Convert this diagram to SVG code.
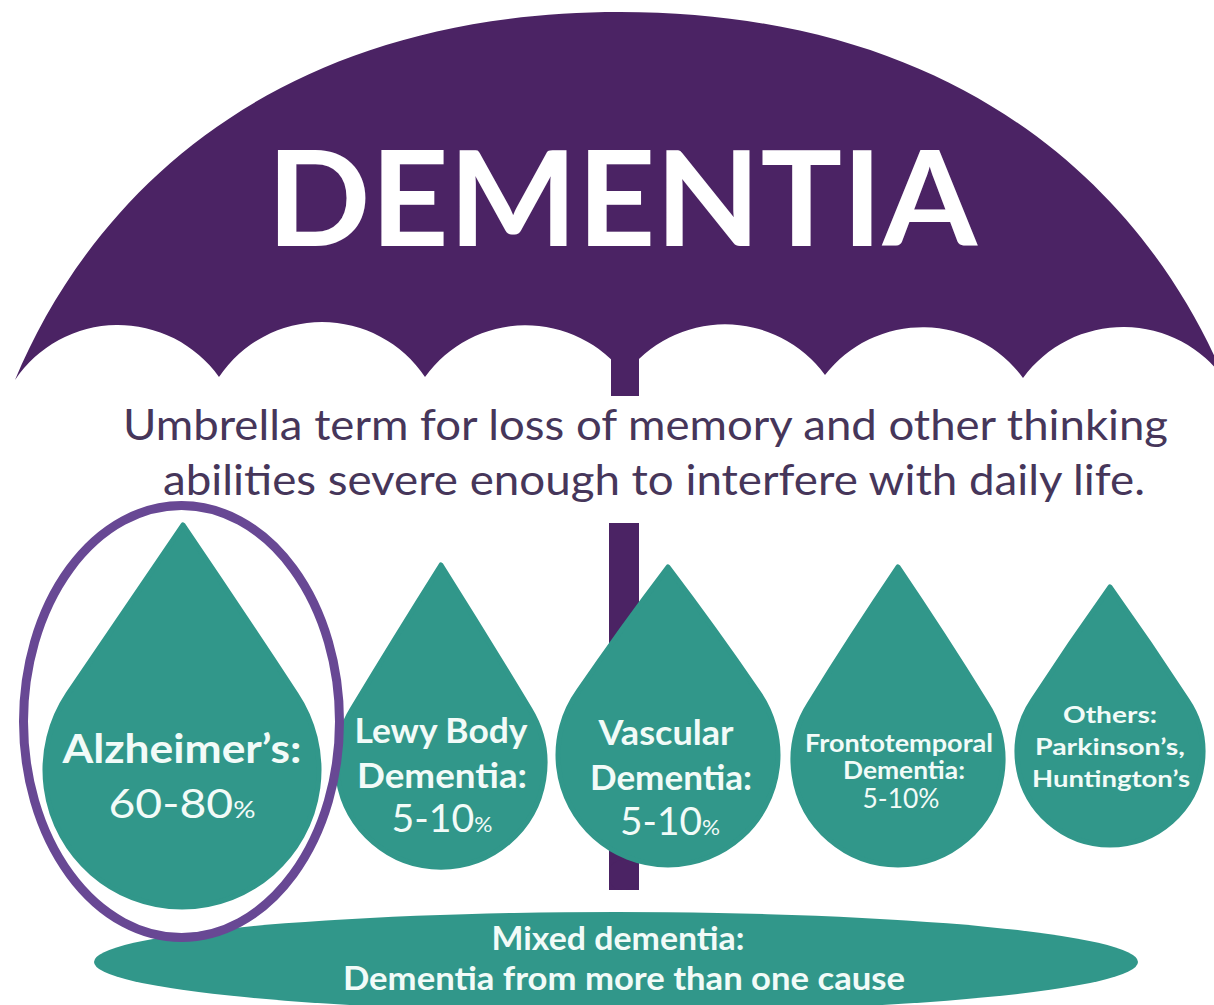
<svg xmlns="http://www.w3.org/2000/svg" width="1214" height="1005" viewBox="0 0 1214 1005">
<style>
.canopy{fill:#4b2364}
.shaft{fill:#4b2364}
.drop{fill:#31978a;stroke:#31978a;stroke-width:5;stroke-linejoin:round}
.ring{fill:none;stroke:#684894;stroke-width:9}
.title{font-family:Lato,"Liberation Sans",sans-serif;font-weight:700;fill:#ffffff}
.sub{font-family:Lato,"Liberation Sans",sans-serif;font-weight:400;fill:#46365a;font-size:42px}
.lb{font-family:Lato,"Liberation Sans",sans-serif;font-weight:700;fill:#f2fbf8;text-anchor:middle}
.lr{font-family:Lato,"Liberation Sans",sans-serif;font-weight:400;fill:#f2fbf8;text-anchor:middle}
</style>
<rect width="1214" height="1005" fill="#ffffff"/>
<g id="umbrella">
<rect class="shaft" x="609" y="523" width="30" height="367" rx="0"/>
<rect class="shaft" x="609" y="860" width="30" height="30" rx="13"/>
<path class="canopy" d="M15,380 C90,200 270,12 620,12 C970,12 1150,200 1225,380 A124 124 0 0 0 1023,378 A124 124 0 0 0 825,375 A124 124 0 0 0 625,375 A124 124 0 0 0 425,377 A124 124 0 0 0 219,377 A124 124 0 0 0 15,380 Z"/>
<rect class="shaft" x="611" y="340" width="28" height="56"/>
<text class="title" x="622" y="246" font-size="132" text-anchor="middle" textLength="710" lengthAdjust="spacingAndGlyphs">DEMENTIA</text>
</g>
<g id="definition">
<text class="sub" x="123" y="440" textLength="1045" lengthAdjust="spacingAndGlyphs">Umbrella term for loss of memory and other thinking</text>
<text class="sub" x="163" y="495" textLength="982" lengthAdjust="spacingAndGlyphs">abilities severe enough to interfere with daily life.</text>
</g>
<g id="connectors"></g>
<g id="alzheimers">
<path class="drop" d="M183,525 Q242,612 296,694 A137 137 0 1 1 68,694 Q124,612 183,525 Z"/>
<text class="lb" x="182" y="763" font-size="40" textLength="239" lengthAdjust="spacingAndGlyphs">Alzheimer’s:</text>
<text class="lr" x="182" y="818" font-size="40" textLength="147" lengthAdjust="spacingAndGlyphs">60-80<tspan font-size="24">%</tspan></text>
</g>
<g id="lewy-body">
<path class="drop" d="M441,565 Q487,638 529.8,709 A104 104 0 1 1 352.2,709 Q395,638 441,565 Z"/>
<text class="lb" x="441" y="743" font-size="34" textLength="173" lengthAdjust="spacingAndGlyphs">Lewy Body</text>
<text class="lb" x="442" y="788" font-size="34" textLength="170" lengthAdjust="spacingAndGlyphs">Dementia:</text>
<text class="lr" x="442" y="832" font-size="38" textLength="101" lengthAdjust="spacingAndGlyphs">5-10<tspan font-size="22">%</tspan></text>
</g>
<g id="vascular">
<path class="drop" d="M668,567 Q715,629 757.7,691.3 A110 110 0 1 1 578.3,691.3 Q621,629 668,567 Z"/>
<text class="lb" x="666" y="745" font-size="34" textLength="135" lengthAdjust="spacingAndGlyphs">Vascular</text>
<text class="lb" x="671" y="790" font-size="34" textLength="162" lengthAdjust="spacingAndGlyphs">Dementia:</text>
<text class="lr" x="670" y="835" font-size="38" textLength="100" lengthAdjust="spacingAndGlyphs">5-10<tspan font-size="22">%</tspan></text>
</g>
<g id="frontotemporal">
<path class="drop" d="M898,567 Q944,635 986.5,703.5 A105 105 0 1 1 809.5,703.5 Q852,635 898,567 Z"/>
<text class="lb" x="899" y="752" font-size="25" textLength="188" lengthAdjust="spacingAndGlyphs">Frontotemporal</text>
<text class="lb" x="904" y="779" font-size="25" textLength="122" lengthAdjust="spacingAndGlyphs">Dementia:</text>
<text class="lr" x="901" y="808" font-size="26" textLength="77" lengthAdjust="spacingAndGlyphs">5-10%</text>
</g>
<g id="others">
<path class="drop" d="M1110,587 Q1150,643 1187.2,700.2 A93 93 0 1 1 1032.8,700.2 Q1070,643 1110,587 Z"/>
<text class="lb" x="1110" y="723" font-size="23" textLength="94" lengthAdjust="spacingAndGlyphs">Others:</text>
<text class="lb" x="1110" y="755" font-size="23" textLength="150" lengthAdjust="spacingAndGlyphs">Parkinson’s,</text>
<text class="lb" x="1111" y="787" font-size="23" textLength="158" lengthAdjust="spacingAndGlyphs">Huntington’s</text>
</g>
<g id="mixed">
<ellipse cx="616" cy="962" rx="522" ry="50" fill="#31978a"/>
<text class="lb" x="618" y="950" font-size="32" textLength="253" lengthAdjust="spacingAndGlyphs">Mixed dementia:</text>
<text class="lb" x="624" y="990" font-size="32" textLength="562" lengthAdjust="spacingAndGlyphs">Dementia from more than one cause</text>
</g>
<g id="highlight">
<ellipse class="ring" cx="181.5" cy="721.5" rx="158" ry="216"/>
</g>
</svg>
